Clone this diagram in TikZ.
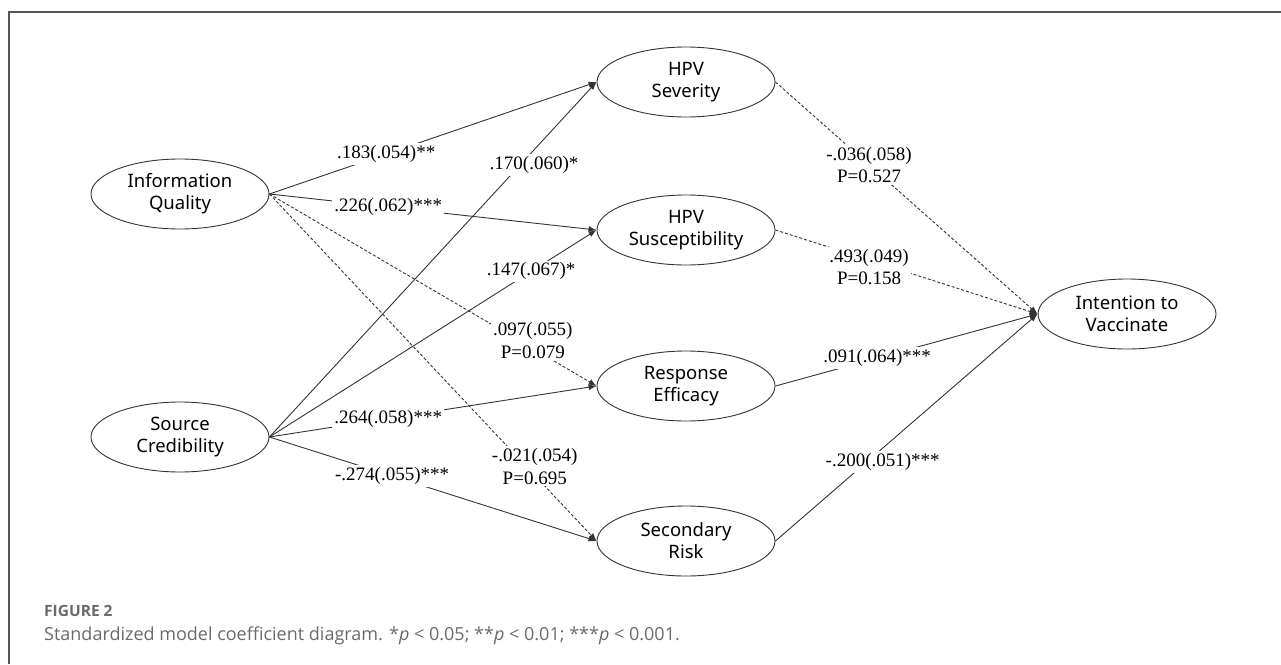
\documentclass[tikz,border=0pt]{standalone}
\usepackage{fontspec}
\setmainfont{Liberation Serif}
\newfontfamily\ellfont{Noto Sans}
\newfontfamily\capfont{Open Sans}
\usetikzlibrary{shapes.geometric,arrows.meta}
\definecolor{linec}{HTML}{333333}
\definecolor{framec}{HTML}{555555}
\definecolor{capgray}{HTML}{6a6a6a}
\begin{document}
\begin{tikzpicture}[x=1pt,y=-1pt,
  latent/.style={ellipse,draw=linec,line width=0.9pt,minimum width=178pt,minimum height=70pt,inner sep=0pt,align=center,font=\ellfont\fontsize{18.5}{22}\selectfont,text=black},
  sigpath/.style={draw=linec,line width=0.9pt,-{Latex[length=8pt,width=6pt]}},
  nspath/.style={sigpath,dash pattern=on 3pt off 2pt},
  coef/.style={fill=white,inner sep=2pt,align=center,font=\fontsize{19}{22.5}\selectfont,text=black}]
\useasboundingbox (0,0) rectangle (1281,664);
\draw[framec,line width=1.2pt] (9,664) -- (9,12) -- (1281,12);

\node[latent] (IQ)  at (180,194) {Information\\Quality};
\node[latent] (SC)  at (180,437) {Source\\Credibility};
\node[latent] (SEV) at (686,82)  {HPV\\Severity};
\node[latent] (SUS) at (686,230) {HPV\\Susceptibility};
\node[latent] (RE)  at (686,386) {Response\\Efficacy};
\node[latent] (SR)  at (686,541) {Secondary\\Risk};
\node[latent] (IV)  at (1127,314) {Intention to\\Vaccinate};

% Information Quality
\draw[sigpath] (IQ.east) -- node[coef,pos=0.357]{.183(.054)**} (SEV.west);
\draw[sigpath] (IQ.east) -- node[coef,pos=0.363]{.226(.062)***} (SUS.west);
\draw[nspath] (IQ.east) -- node[coef,pos=0.805,yshift=8pt]{.097(.055)\\P=0.079} (RE.west);
\draw[nspath] (IQ.east) -- node[coef,pos=0.811,yshift=9pt]{-.021(.054)\\P=0.695} (SR.west);

% Source Credibility
\draw[sigpath] (SC.east) -- node[coef,pos=0.766,xshift=14pt]{.170(.060)*} (SEV.west);
\draw[sigpath] (SC.east) -- node[coef,pos=0.80]{.147(.067)*} (SUS.west);
\draw[sigpath] (SC.east) -- node[coef,pos=0.363]{.264(.058)***} (RE.west);
\draw[sigpath] (SC.east) -- node[coef,pos=0.375]{-.274(.055)***} (SR.west);

% to Intention
\draw[nspath] (SEV.east) -- node[coef,pos=0.357]{-.036(.058)\\P=0.527} (IV.west);
\draw[nspath] (SUS.east) -- node[coef,pos=0.357,yshift=-7pt]{.493(.049)\\P=0.158} (IV.west);
\draw[sigpath] (RE.east) -- node[coef,pos=0.388]{.091(.064)***} (IV.west);
\draw[sigpath] (SR.east) -- node[coef,pos=0.348,xshift=16pt]{-.200(.051)***} (IV.west);

% caption
\node[anchor=base west,inner sep=0pt,font=\capfont\bfseries\fontsize{15.5}{18}\selectfont,text=capgray] (fig) at (44,616) {FIGURE 2};
\node[anchor=base west,inner sep=0pt,font=\capfont\fontsize{18}{21}\selectfont,text=capgray] (cap) at (44,640) {Standardized model coefficient diagram. *\textit{p} < 0.05; **\textit{p} < 0.01; ***\textit{p} < 0.001.};
\end{tikzpicture}
\end{document}
